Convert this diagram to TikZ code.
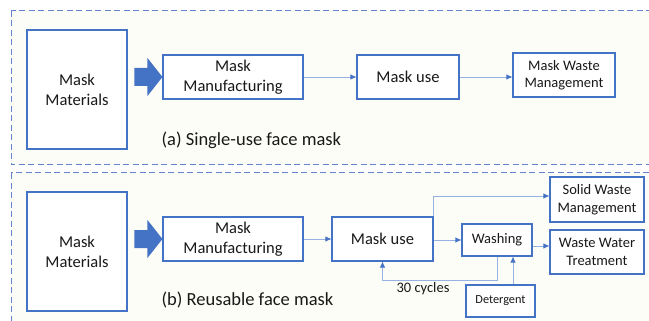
\documentclass[tikz,border=0pt]{standalone}
\usepackage{fontspec}
\setmainfont{Carlito}
\usepackage{tikz}
\usetikzlibrary{arrows.meta,calc}
\definecolor{boxBlue}{RGB}{68,114,196}
\definecolor{lineBlue}{RGB}{150,178,228}
\definecolor{frameBlue}{RGB}{98,132,204}
\definecolor{paper}{RGB}{253,253,247}
\definecolor{inkDark}{RGB}{25,25,25}

\begin{document}
\begin{tikzpicture}[x=1pt, y=-1pt]%
  \tikzset{flow arrow/.style={draw=lineBlue,line width=0.8pt,-{Latex[length=6pt,width=5.5pt,color=boxBlue]}}}
  \tikzset{frame/.style={draw=frameBlue,line width=1pt,dash pattern=on 6pt off 3.5pt,fill=paper}}
  \tikzstyle{every node}=[draw=boxBlue, line width=1.1pt, text=inkDark, align=center, inner sep=0pt, fill=white]
  \tikzset{big/.style={font=\fontsize{16.5}{20}\selectfont}}
  \tikzset{small/.style={font=\fontsize{14.5}{17.5}\selectfont}}
  \tikzset{caption/.style={draw=none, fill=none, anchor=west, font=\fontsize{18.5}{22}\selectfont}}

  \clip (0,0) rectangle (649,321);
  \fill[white] (0,0) rectangle (649,321);
  \path[frame] (11,11) rectangle (662,165);
  \path[frame] (11,173) rectangle (662,335);

  % (a) single use
  \node[big, minimum width=100pt, minimum height=119pt] at (77,89.5) (matA) {Mask\\Materials};
  \node[big, minimum width=140pt, minimum height=44pt] at (233,77) (mfgA) {Mask\\Manufacturing};
  \node[big, minimum width=102pt, minimum height=44pt] at (408,77) (useA) {Mask use};
  \node[small, minimum width=102pt, minimum height=44pt] at (564,75) (wasteA) {Mask Waste\\Management};
  \node[caption] at (161,140) (capA) {(a) Single-use face mask};

  \fill[boxBlue] (mfgA.west) -- ++(-15,-19) -- ++(0,10) -- ++(-13,0) -- ++(0,18) -- ++(13,0) -- ++(0,10) -- cycle;
  \path[flow arrow] (mfgA) -- (useA);
  \path[flow arrow] (useA.east) -- (useA.east -| wasteA.west);

  % (b) reusable
  \node[big, minimum width=100pt, minimum height=119pt] at (77,251.5) (matB) {Mask\\Materials};
  \node[big, minimum width=140pt, minimum height=44pt] at (233,239) (mfgB) {Mask\\Manufacturing};
  \node[big, minimum width=101pt, minimum height=44pt] at (382.5,239) (useB) {Mask use};
  \node[small, minimum width=70pt, minimum height=32pt] at (497,240) (wash) {Washing};
  \node[small, minimum width=94pt, minimum height=45pt] at (597,199.5) (solid) {Solid Waste\\Management};
  \node[small, minimum width=94pt, minimum height=44pt] at (597,252) (wwt) {Waste Water\\Treatment};
  \node[font=\fontsize{12.3}{15}\selectfont, minimum width=69pt, minimum height=32pt] at (500.5,301) (det) {Detergent};
  \node[small, draw=none, fill=none] at (423,289) (cyc) {30 cycles};
  \node[caption] at (161,300) (capB) {(b) Reusable face mask};

  \fill[boxBlue] (mfgB.west) -- ++(-15,-19) -- ++(0,10) -- ++(-13,0) -- ++(0,18) -- ++(13,0) -- ++(0,10) -- cycle;
  \path[flow arrow] (mfgB) -- (useB);
  \path[flow arrow] (useB.east |- wash.west) -- (wash.west);
  \path[flow arrow] (useB.north east) |- ([yshift=3.5pt]solid.west);
  \path[flow arrow] ([yshift=-6pt]wash.east) -- ([yshift=-6pt]wash.east -| wwt.west);
  \path[flow arrow] (wash.south) -- ++(0,24) -| (useB.south);
  \path[flow arrow] ([xshift=12.5pt]det.north) -- ([xshift=12.5pt]det.north |- wash.south);
\end{tikzpicture}
\end{document}
